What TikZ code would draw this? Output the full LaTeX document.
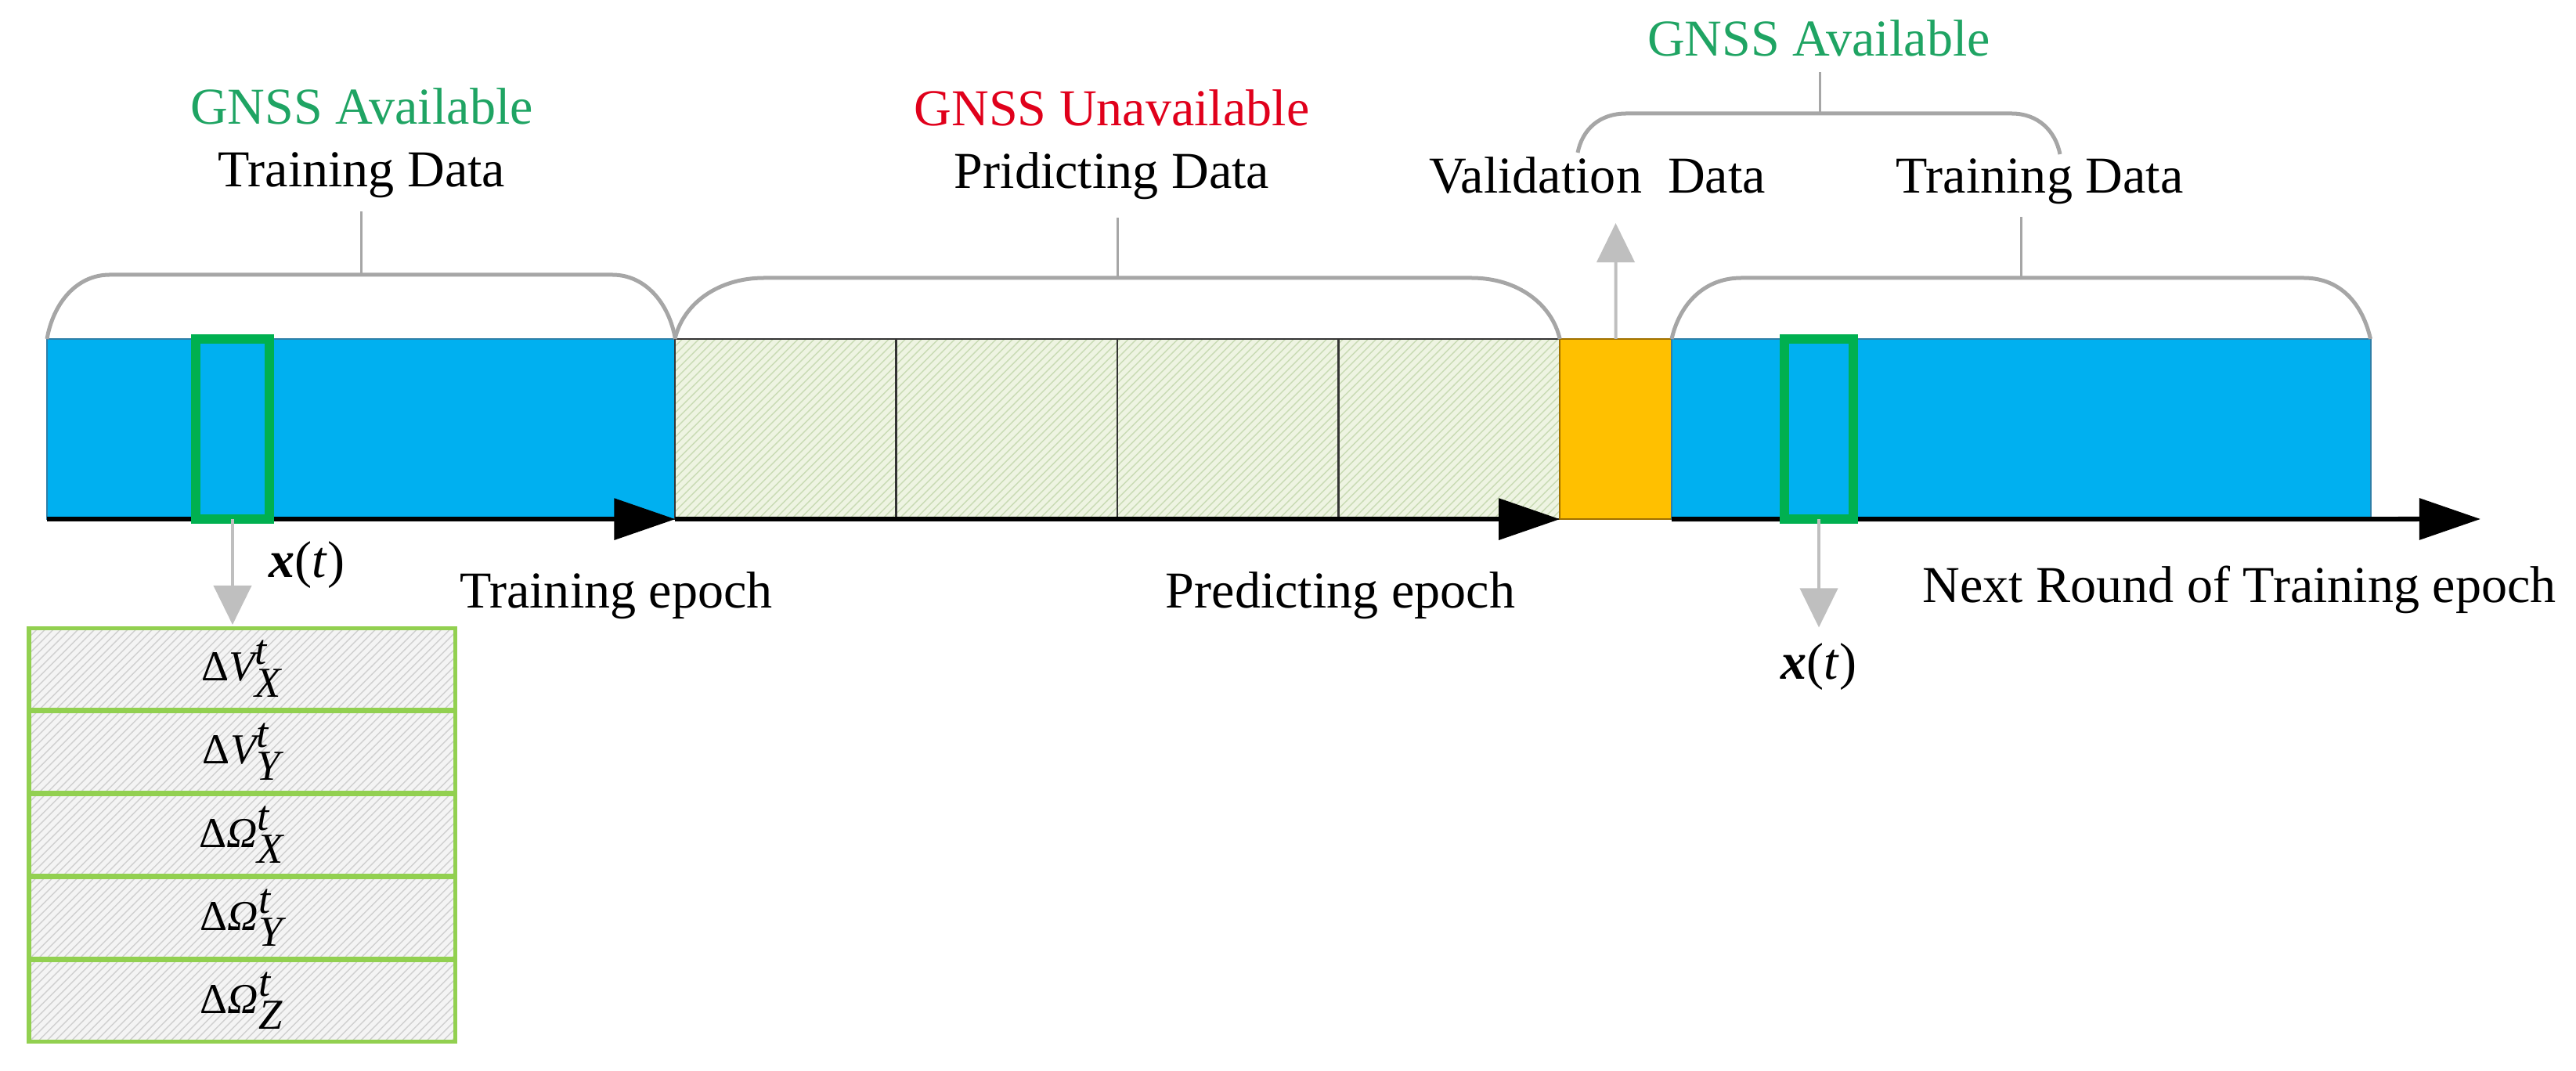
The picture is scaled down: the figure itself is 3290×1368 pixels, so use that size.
\documentclass[tikz,border=0pt]{standalone}
\usepackage{fontspec}
\setmainfont{Liberation Serif}
\usetikzlibrary{arrows.meta,patterns}

\definecolor{barblue}{HTML}{00B0F0}
\definecolor{bluedge}{HTML}{2E7FA8}
\definecolor{orng}{HTML}{FFC000}
\definecolor{orngedge}{HTML}{A07000}
\definecolor{hatchfill}{HTML}{EEF4E2}
\definecolor{hatchline}{HTML}{C9DBB4}
\definecolor{cellline}{HTML}{333333}
\definecolor{boxfill}{HTML}{F4F4F4}
\definecolor{boxline}{HTML}{D0D0D0}
\definecolor{boxedge}{HTML}{92D050}
\definecolor{selgreen}{HTML}{00B050}
\definecolor{bracegrey}{HTML}{A6A6A6}
\definecolor{arrowgrey}{HTML}{BFBFBF}
\definecolor{txtgreen}{HTML}{1FA463}
\definecolor{txtred}{HTML}{E0001B}

\begin{document}
\begin{tikzpicture}[x=0.01cm,y=-0.01cm,
  lbl/.style={font=\fontsize{18.8}{22}\selectfont, anchor=base, inner sep=0pt},
  boxlbl/.style={font=\fontsize{15.5}{18}\selectfont},
  barbox/.style={rectangle, anchor=north west, inner sep=0pt, outer sep=0pt, minimum height=2.30cm},
  bluebar/.style={barbox, fill=barblue, draw=bluedge, line width=0.02cm},
  cell/.style={barbox, minimum width=2.825cm, preaction={fill=hatchfill}, pattern=north east lines, pattern color=hatchline, draw=cellline, line width=0.025cm},
  valbar/.style={barbox, minimum width=1.43cm, fill=orng, draw=orngedge, line width=0.02cm},
  selbox/.style={rectangle, inner sep=0pt, outer sep=0pt, minimum height=2.30cm, draw=selgreen, line width=0.12cm},
  featbox/.style={rectangle, anchor=north west, inner sep=0pt, outer sep=0pt, minimum width=5.44cm, minimum height=1.03cm, preaction={fill=boxfill}, pattern=north east lines, pattern color=boxline, draw=boxedge, line width=0.05cm, font=\fontsize{15.5}{18}\selectfont},
  brace/.style={draw=bracegrey, line width=0.05cm},
  stem/.style={draw=bracegrey, line width=0.03cm},
  axis/.style={line width=0.06cm, -{Triangle[length=0.78cm,width=0.52cm]}},
  garrow/.style={draw=arrowgrey, line width=0.04cm, -{Triangle[length=0.5cm,width=0.48cm]}, color=arrowgrey}
]
\useasboundingbox (0,0) rectangle (3290,1368);

% bars
\node[bluebar, minimum width=8.02cm] (tr1) at (60,433) {};
\node[cell] (pc1) at (862,433) {};
\node[cell] (pc2) at (1144.5,433) {};
\node[cell] (pc3) at (1427,433) {};
\node[cell] (pc4) at (1709.5,433) {};
\node[valbar] (val) at (1992,433) {};
\node[bluebar, minimum width=8.92cm] (tr2) at (2135,433) {};

% axis arrows
\coordinate (axend) at (3168,663);
\draw[axis] (tr1.south west) -- (tr1.south east);
\draw[axis] (pc1.south west) -- (pc4.south east);
\draw[axis] (tr2.south west) -- (axend);

% selection boxes
\node[selbox, minimum width=0.93cm] (sel1) at (297,548) {};
\node[selbox, minimum width=0.88cm] (sel2) at (2323,548) {};

% feature boxes
\node[featbox] (bx1) at (37,803)  {$\textrm{Δ}\textit{V}^{\textit{t}}_{\textit{X}}$};
\node[featbox] (bx2) at (37,909)  {$\textrm{Δ}\textit{V}^{\textit{t}}_{\textit{Y}}$};
\node[featbox] (bx3) at (37,1015) {$\textrm{Δ}\textit{Ω}^{\textit{t}}_{\textit{X}}$};
\node[featbox] (bx4) at (37,1121) {$\textrm{Δ}\textit{Ω}^{\textit{t}}_{\textit{Y}}$};
\node[featbox] (bx5) at (37,1227) {$\textrm{Δ}\textit{Ω}^{\textit{t}}_{\textit{Z}}$};

% x(t) labels
\node[lbl] (xt1) at (392,738) {\textbf{\textit{x}}(\textit{t})};
\node[lbl] (xt2) at (2323,868) {\textbf{\textit{x}}(\textit{t})};

% grey arrows
\coordinate (valtip) at (2063.5,285);
\draw[garrow, shorten >=0.05cm] (sel1.south) -- (bx1.north -| sel1.south);
\draw[garrow, shorten >=0.2cm] (sel2.south) -- (xt2.north);
\draw[garrow] (val.north) -- (valtip);

% text labels
\node[lbl, text=txtgreen] (g1) at (462,159) {GNSS Available};
\node[lbl] (d1) at (462,239) {Training Data};
\node[lbl, text=txtred] (g2) at (1420,161) {GNSS Unavailable};
\node[lbl] (d2) at (1420,241) {Pridicting Data};
\node[lbl, text=txtgreen] (g3) at (2323,72) {GNSS Available};
\node[lbl] (d3) at (2040,247) {Validation\ \ Data};
\node[lbl] (d4) at (2605,247) {Training Data};
\node[lbl] (e1) at (787,777) {Training epoch};
\node[lbl] (e2) at (1712,777) {Predicting epoch};
\node[lbl] (e3) at (2860,770) {Next Round of Training epoch};

% braces
\draw[brace] (tr1.north west) .. controls +(8,-46) and +(-42,0) .. (140,351) -- (782,351) .. controls +(42,0) and +(-8,-46) .. (tr1.north east);
\draw[stem] (461,351) -- (461,270);
\draw[brace] (pc1.north west) .. controls +(10,-44) and +(-60,0) .. (976,355) -- (1879,355) .. controls +(60,0) and +(-10,-44) .. (pc4.north east);
\draw[stem] (1427,355) -- (1427,278);
\draw[brace] (2015,195) .. controls +(6,-30) and +(-34,0) .. (2077,145) -- (2569,145) .. controls +(34,0) and +(-6,-30) .. (2631,197);
\draw[stem] (2324,145) -- (2324,92);
\draw[brace] (tr2.north west) .. controls +(10,-44) and +(-48,0) .. (2224,355) -- (2942,355) .. controls +(48,0) and +(-10,-44) .. (tr2.north east);
\draw[stem] (2581,355) -- (2581,277);
\end{tikzpicture}
\end{document}
